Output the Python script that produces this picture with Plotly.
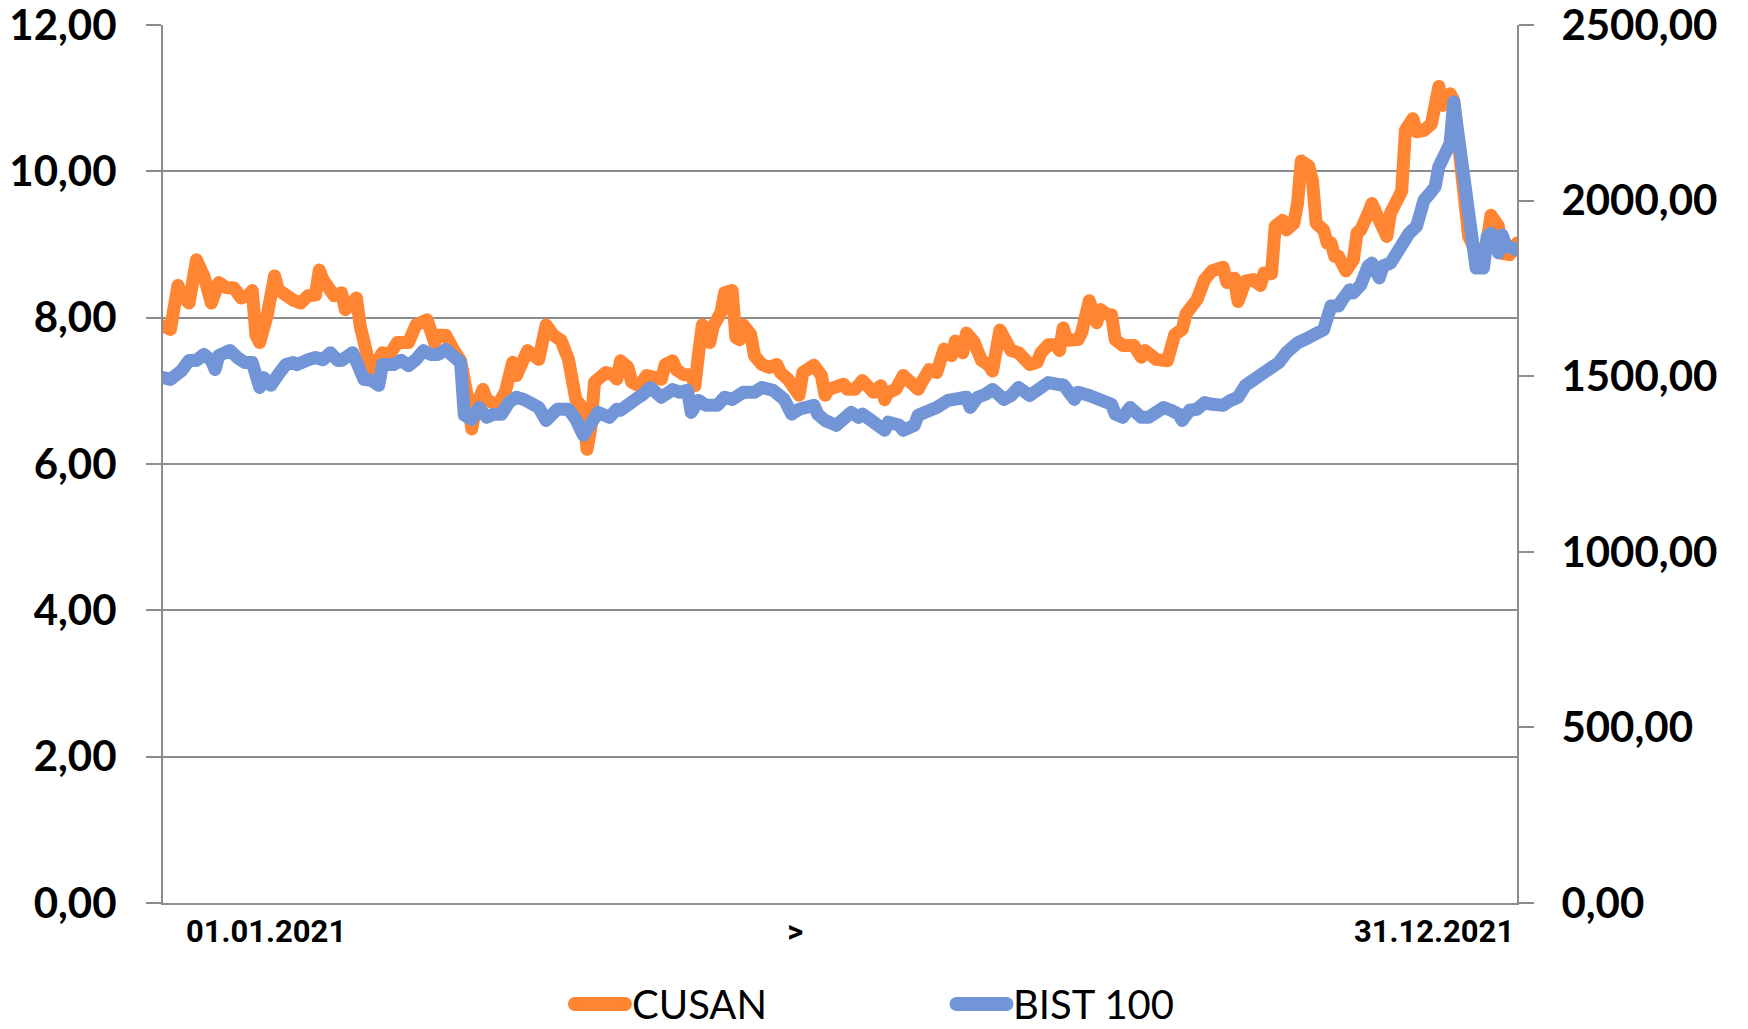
import plotly.graph_objects as go

# ---- data (day-of-year index) ----
cusan_day = [0,2,4,5,7,8,9,11,13,15,17,19,21,23,24,25,26,28,30,31,33,35,37,39,41,42,43,45,46,48,49,50,52,53,55,56,58,59,61,63,66,67,68,71,73,74,76,78,80,82,83,84,86,87,89,90,92,94,95,98,101,103,105,107,109,111,113,114,115,116,117,119,121,122,123,125,126,128,130,132,134,135,137,138,140,142,143,144,145,147,148,150,151,153,154,155,156,158,159,161,163,165,166,168,169,171,172,173,175,177,178,179,181,183,184,186,188,190,191,193,194,195,197,199,201,203,204,206,208,210,212,213,215,216,218,220,222,223,225,226,228,230,232,233,235,236,238,240,241,242,243,246,247,249,251,252,254,255,256,258,261,263,264,266,267,270,271,272,274,275,278,280,282,285,286,288,289,291,293,295,296,298,299,301,302,304,305,306,308,309,310,312,313,314,315,316,318,320,321,322,324,325,327,329,330,332,333,334,336,337,339,341,343,344,346,347,349,350,351,354,356,357,359,360,362,364]
cusan = [7.89,7.84,8.44,8.31,8.20,8.61,8.79,8.57,8.20,8.48,8.41,8.41,8.27,8.31,8.37,7.76,7.66,8.03,8.57,8.38,8.30,8.24,8.20,8.30,8.31,8.65,8.52,8.41,8.30,8.34,8.11,8.16,8.27,7.89,7.52,7.25,7.43,7.52,7.50,7.66,7.66,7.80,7.90,7.97,7.66,7.76,7.76,7.57,7.41,6.88,6.48,6.75,7.02,6.88,6.80,6.80,6.98,7.39,7.21,7.55,7.43,7.90,7.76,7.69,7.43,6.88,6.75,6.20,6.48,7.12,7.16,7.25,7.22,7.16,7.41,7.32,7.12,7.07,7.21,7.18,7.16,7.36,7.41,7.29,7.22,7.22,7.07,7.52,7.90,7.66,7.89,8.07,8.34,8.37,7.73,7.70,7.90,7.77,7.48,7.36,7.32,7.36,7.25,7.16,7.07,6.94,7.25,7.28,7.35,7.21,6.94,7.02,7.07,7.09,7.02,7.02,7.14,7.05,6.98,7.07,6.88,6.98,7.02,7.21,7.12,7.02,7.12,7.29,7.25,7.57,7.48,7.68,7.52,7.79,7.67,7.42,7.35,7.27,7.83,7.76,7.55,7.52,7.43,7.36,7.39,7.52,7.63,7.63,7.55,7.86,7.69,7.70,7.80,8.23,7.93,8.11,8.04,8.04,7.70,7.62,7.62,7.46,7.55,7.48,7.43,7.41,7.59,7.77,7.84,8.05,8.25,8.52,8.64,8.69,8.48,8.54,8.22,8.50,8.52,8.44,8.61,8.60,9.25,9.33,9.20,9.29,9.56,10.14,10.07,9.88,9.29,9.20,9.02,9.02,8.84,8.84,8.64,8.79,9.16,9.20,9.43,9.56,9.33,9.11,9.43,9.66,9.73,10.56,10.72,10.54,10.56,10.65,11.16,10.90,11.06,10.97,9.97,9.47,9.11,8.79,9.06,9.40,9.25,8.88,8.86,9.02]

bist_day = [0,2,5,7,9,11,13,14,15,18,20,22,24,26,27,29,31,33,35,36,39,41,43,45,47,48,51,52,54,56,58,59,62,64,66,68,70,72,74,76,78,80,81,83,85,87,89,91,93,95,97,99,101,103,106,109,111,113,115,117,120,122,123,125,127,129,131,134,137,139,141,142,144,146,149,151,153,156,159,161,164,167,169,171,173,175,176,178,181,183,185,187,188,190,192,194,195,198,199,202,203,206,208,211,213,216,217,219,221,223,224,226,228,230,233,236,238,241,242,245,246,249,252,255,256,258,260,263,265,269,271,273,274,276,278,280,282,285,287,289,291,294,296,298,300,302,305,308,310,312,314,316,317,319,320,322,324,325,327,328,330,332,333,335,337,338,339,341,342,343,345,346,347,348,349,350,351,352,353,355,356,357,359,360,361,364]
bist = [1496,1491,1516,1545,1545,1562,1545,1519,1559,1573,1553,1539,1539,1468,1496,1474,1505,1533,1539,1533,1547,1553,1547,1567,1545,1545,1567,1547,1491,1488,1474,1533,1533,1545,1530,1547,1573,1562,1562,1576,1562,1539,1389,1377,1411,1383,1392,1392,1425,1440,1434,1417,1411,1374,1406,1406,1377,1332,1360,1397,1383,1406,1403,1425,1434,1448,1468,1440,1462,1454,1460,1397,1431,1417,1417,1440,1434,1454,1454,1468,1460,1434,1392,1406,1411,1417,1392,1374,1360,1377,1397,1383,1392,1377,1360,1346,1369,1360,1346,1360,1389,1397,1411,1431,1434,1440,1411,1440,1448,1462,1454,1434,1445,1468,1445,1462,1482,1476,1476,1434,1454,1445,1431,1420,1392,1383,1411,1383,1383,1411,1403,1392,1374,1403,1406,1425,1420,1417,1431,1440,1474,1496,1516,1525,1539,1567,1595,1610,1618,1632,1700,1700,1717,1746,1737,1760,1814,1822,1780,1814,1822,1856,1879,1907,1927,1972,2001,2026,2040,2097,2148,2162,2281,2191,2097,2069,1984,1887,1808,1808,1899,1907,1851,1902,1873,1859]

x_tick_pos = [27.7, 170, 341.7]
x_tick_text = ["01.01.2021", ">", "31.12.2021"]
series_names = ["CUSAN", "BIST 100"]

ORANGE = "#FF8533"
BLUE = "#7295D8"
GRID = "#8C8C8C"
LINE_W = 13

fig = go.Figure()
fig.add_trace(go.Scatter(x=cusan_day, y=cusan, name=series_names[0], mode="lines",
                         line=dict(color=ORANGE, width=LINE_W), yaxis="y"))
fig.add_trace(go.Scatter(x=bist_day, y=bist, name=series_names[1], mode="lines",
                         line=dict(color=BLUE, width=LINE_W), yaxis="y2"))

tickfont = dict(family="Lato", size=42, color="black", weight="bold")

# custom legend (rounded thick swatches + labels) placed below the plot
legend_y = -0.1150
swatches = [(0.3227, ORANGE, 0.3449, series_names[0]),
            (0.6045, BLUE, 0.6263, series_names[1])]
shapes = []
annotations = []
for cx, col, tx, name in swatches:
    common = dict(xref="paper", yref="paper", xsizemode="pixel", ysizemode="pixel",
                  xanchor=cx, yanchor=legend_y, fillcolor=col, line=dict(width=0), layer="above")
    shapes.append(dict(type="rect", x0=-25, x1=25, y0=-7, y1=7, **common))
    shapes.append(dict(type="circle", x0=-32, x1=-18, y0=-7, y1=7, **common))
    shapes.append(dict(type="circle", x0=18, x1=32, y0=-7, y1=7, **common))
    annotations.append(dict(xref="paper", yref="paper", x=tx, y=legend_y, xanchor="left",
                            yanchor="middle", text=name, showarrow=False,
                            font=dict(family="Lato", size=40, color="black")))

fig.update_layout(
    width=1748, height=1029,
    margin=dict(l=163, r=231, t=25, b=126, autoexpand=False),
    paper_bgcolor="white", plot_bgcolor="white",
    separators=",.",
    showlegend=False,
    shapes=shapes,
    annotations=annotations,
    xaxis=dict(range=[0, 364], showgrid=False, zeroline=False, showline=True,
               linecolor=GRID, linewidth=2, tickmode="array", tickvals=x_tick_pos,
               ticktext=x_tick_text, ticks="", ticklabelstandoff=0,
               tickfont=dict(family="Roboto", size=31, color="black", weight="bold")),
    yaxis=dict(range=[0, 12], dtick=2, tick0=0, tickformat=".2f", showgrid=True,
               gridcolor=GRID, gridwidth=2, zeroline=False, showline=True,
               linecolor=GRID, linewidth=2, ticks="outside", ticklen=15,
               tickcolor=GRID, tickwidth=2, tickfont=tickfont, ticklabelstandoff=21,
               ticklabeloverflow="allow"),
    yaxis2=dict(range=[0, 2500], dtick=500, tick0=0, tickformat=".2f", overlaying="y",
                side="right", showgrid=False, zeroline=False, showline=True,
                linecolor=GRID, linewidth=2, ticks="outside", ticklen=15,
                tickcolor=GRID, tickwidth=2, tickfont=tickfont, ticklabelstandoff=19,
                ticklabeloverflow="allow"),
)

post = """
document.body.style.margin='0';
document.querySelectorAll('.scatterlayer .js-line').forEach(function(p){
  p.style.strokeLinejoin='round'; p.style.strokeLinecap='round';
});
"""
fig.write_html("out.html", config={"displayModeBar": False}, post_script=post)
